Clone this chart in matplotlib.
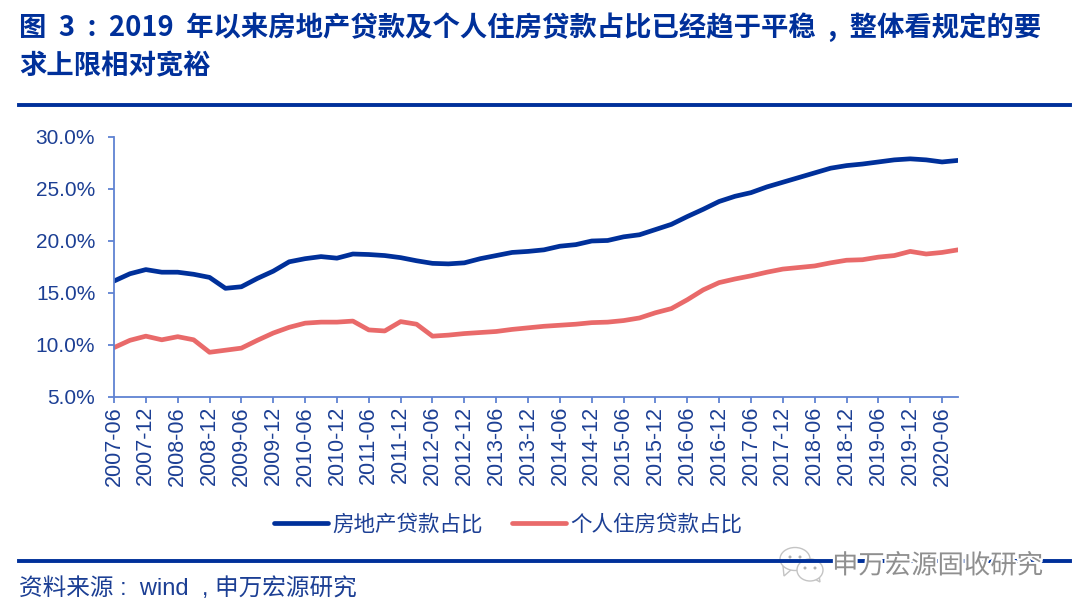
import matplotlib
matplotlib.use("Agg")
import matplotlib.pyplot as plt
import matplotlib.patheffects as pe
from matplotlib.patches import Ellipse, Polygon

# ==============================
# DATA (quarterly)
# ==============================
years = range(2007, 2021)
tick_labels = [f"{y}-{m}" for y in years for m in ("06", "12")][:-1]

property_share = [16.15, 16.85, 17.25, 17.0, 17.0, 16.8, 16.5, 15.45, 15.6, 16.4,
                  17.1, 18.0, 18.3, 18.5, 18.35, 18.75, 18.7, 18.6, 18.4, 18.1,
                  17.85, 17.8, 17.9, 18.3, 18.6, 18.9, 19.0, 19.15, 19.5, 19.65,
                  20.0, 20.05, 20.4, 20.6, 21.1, 21.6, 22.35, 23.05, 23.8, 24.3,
                  24.65, 25.2, 25.65, 26.1, 26.55, 27.0, 27.25, 27.4, 27.6, 27.8,
                  27.9, 27.8, 27.6, 27.75]
mortgage_share = [9.75, 10.45, 10.85, 10.5, 10.8, 10.5, 9.3, 9.5, 9.7, 10.45,
                  11.15, 11.7, 12.1, 12.2, 12.2, 12.3, 11.45, 11.35, 12.25, 12.0,
                  10.85, 10.95, 11.1, 11.2, 11.3, 11.5, 11.65, 11.8, 11.9, 12.0,
                  12.15, 12.2, 12.35, 12.6, 13.1, 13.5, 14.35, 15.3, 16.0, 16.35,
                  16.65, 17.0, 17.3, 17.45, 17.6, 17.9, 18.15, 18.2, 18.45, 18.6,
                  19.0, 18.75, 18.9, 19.15]
y_ticks = [5, 10, 15, 20, 25, 30]

title_lines = ["图  3  :  2019  年以来房地产贷款及个人住房贷款占比已经趋于平稳  ,  整体看规定的要",
               "求上限相对宽裕"]
source_text = "资料来源 :  wind  , 申万宏源研究"
watermark = "申万宏源固收研究"

BLUE = "#00309a"
TEXT = "#1c3f94"
AXIS = "#5f82d2"
RED = "#e96a6a"
FONTS = ["Liberation Sans", "Noto Sans CJK SC"]

W, H = 1080, 614
plt.rcParams["font.family"] = FONTS

fig = plt.figure(figsize=(W / 100, H / 100), dpi=100)
ax = fig.add_axes([114 / W, 1 - 397 / H, (958 - 114) / W, 260 / H])

xs = list(range(len(property_share)))
ax.plot(xs, property_share, color=BLUE, lw=3.4, label="房地产贷款占比", solid_capstyle="round")
ax.plot(xs, mortgage_share, color=RED, lw=3.4, label="个人住房贷款占比", solid_capstyle="round")

ax.set_xlim(0, xs[-1])
ax.set_ylim(5, 30)
ax.set_yticks(y_ticks)
ax.set_yticklabels([f"{v:.1f}%" for v in y_ticks], fontsize=15, color=TEXT)
ax.set_xticks(xs[::2][:len(tick_labels)])
ax.set_xticklabels(tick_labels, rotation=90, fontsize=15.5, color=TEXT)
ax.tick_params(axis="y", color=AXIS, width=1.3, length=4.5, pad=9)
ax.tick_params(axis="x", color=AXIS, width=1.3, length=4.5, pad=2)
for side in ("top", "right"):
    ax.spines[side].set_visible(False)
for side in ("left", "bottom"):
    ax.spines[side].set_color(AXIS)
    ax.spines[side].set_linewidth(1.3)

ax.legend(loc="center", bbox_to_anchor=(508 / W, 1 - 525 / H), bbox_transform=fig.transFigure,
          ncol=2, frameon=False, fontsize=15.5, labelcolor=TEXT, handlelength=2.5,
          handletextpad=0.2, columnspacing=1.35, borderpad=0)

# header / footer
title_font = ["Noto Sans CJK SC"]
fig.text(19 / W, 1 - 27 / H, title_lines[0], fontsize=19.7, fontweight="bold", color=BLUE, va="center", family=title_font)
fig.text(19 / W, 1 - 66 / H, title_lines[1], fontsize=19.7, fontweight="bold", color=BLUE, va="center", family=title_font)
fig.add_artist(plt.Line2D([19 / W, 1070 / W], [1 - 105 / H] * 2, color=BLUE, lw=2.8))
fig.add_artist(plt.Line2D([19 / W, 1070 / W], [1 - 561 / H] * 2, color=BLUE, lw=2.8))
fig.text(19 / W, 1 - 589 / H, source_text, fontsize=17, color=TEXT, va="center")

# watermark: two speech bubbles and grey text
halo = [pe.withStroke(linewidth=3, foreground="white")]
for cx, cy, ew, eh, tail in [(795, 559, 30, 23, [(783, 566), (784, 576), (792, 569)]),
                             (810, 570, 26, 22, [(813, 578), (820, 582), (819, 575)])]:
    fig.add_artist(Polygon([(x / W, 1 - y / H) for x, y in tail], transform=fig.transFigure,
                           facecolor="white", edgecolor="#c4c4c4", lw=1))
    fig.add_artist(Ellipse((cx / W, 1 - cy / H), ew / W, eh / H, transform=fig.transFigure,
                           facecolor="white", edgecolor="#c4c4c4", lw=1))
    for dx in (-5, 5):
        fig.add_artist(Ellipse(((cx + dx) / W, 1 - (cy - 2) / H), 3 / W, 3 / H, transform=fig.transFigure,
                               facecolor="#b0b0b0", edgecolor="none"))
fig.text(832 / W, 1 - 566 / H, watermark, fontsize=19, color="#8f8f8f", va="center", path_effects=halo)

fig.savefig("out.png", dpi=100)
